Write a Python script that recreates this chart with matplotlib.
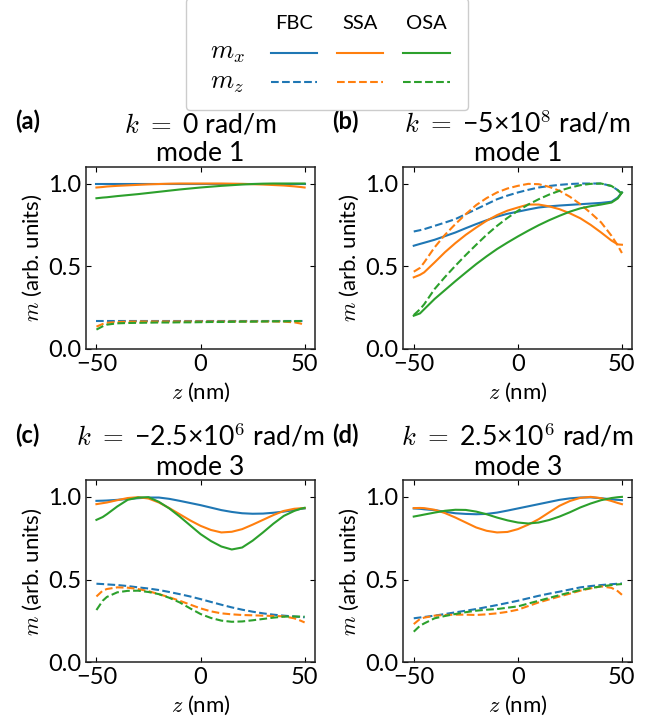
import matplotlib
matplotlib.use("Agg")
import matplotlib.pyplot as plt
import matplotlib.text as mtext
from matplotlib.legend_handler import HandlerBase

# position across the film (nm)
z = [-50, -47, -45, -40, -35, -30, -25, -20, -15, -10, -5, 0,
     5, 10, 15, 20, 25, 30, 35, 40, 45, 48, 50]

# (a) k = 0, mode 1
a_fbc_x = [1.000, 1.000, 1.000, 1.000, 1.000, 1.000, 1.000, 1.000, 1.000, 1.000, 1.000, 1.000,
           1.000, 1.000, 1.000, 1.000, 1.000, 1.000, 1.000, 1.000, 1.000, 1.000, 1.000]
a_ssa_x = [0.976, 0.979, 0.982, 0.986, 0.989, 0.992, 0.995, 0.997, 0.999, 1.000, 1.000, 1.000,
           1.000, 1.000, 0.999, 0.998, 0.996, 0.994, 0.991, 0.988, 0.983, 0.979, 0.976]
a_osa_x = [0.911, 0.915, 0.917, 0.924, 0.930, 0.936, 0.943, 0.950, 0.957, 0.964, 0.970, 0.976,
           0.981, 0.986, 0.990, 0.994, 0.997, 0.999, 1.000, 1.000, 1.000, 1.000, 1.000]
a_fbc_z = [0.170, 0.170, 0.170, 0.170, 0.170, 0.170, 0.170, 0.170, 0.170, 0.170, 0.170, 0.170,
           0.170, 0.170, 0.170, 0.170, 0.170, 0.170, 0.170, 0.170, 0.170, 0.170, 0.170]
a_ssa_z = [0.135, 0.151, 0.158, 0.163, 0.165, 0.166, 0.166, 0.166, 0.166, 0.166, 0.166, 0.166,
           0.166, 0.166, 0.166, 0.166, 0.166, 0.166, 0.166, 0.165, 0.161, 0.154, 0.145]
a_osa_z = [0.117, 0.137, 0.147, 0.155, 0.157, 0.158, 0.159, 0.160, 0.160, 0.161, 0.161, 0.162,
           0.163, 0.163, 0.164, 0.165, 0.165, 0.166, 0.167, 0.167, 0.168, 0.169, 0.169]

# (b) k = -5e8, mode 1
b_fbc_x = [0.624, 0.635, 0.642, 0.660, 0.682, 0.704, 0.730, 0.755, 0.778, 0.800, 0.817, 0.830,
           0.843, 0.855, 0.862, 0.867, 0.871, 0.875, 0.879, 0.883, 0.890, 0.915, 0.946]
b_ssa_x = [0.433, 0.448, 0.463, 0.523, 0.585, 0.640, 0.690, 0.734, 0.775, 0.809, 0.836, 0.855,
           0.873, 0.873, 0.862, 0.845, 0.820, 0.790, 0.750, 0.704, 0.655, 0.632, 0.630]
b_osa_x = [0.201, 0.215, 0.240, 0.302, 0.356, 0.410, 0.462, 0.513, 0.560, 0.604, 0.643, 0.680,
           0.715, 0.748, 0.778, 0.805, 0.830, 0.850, 0.863, 0.873, 0.885, 0.910, 0.946]
b_fbc_z = [0.710, 0.718, 0.724, 0.744, 0.764, 0.785, 0.815, 0.845, 0.875, 0.905, 0.927, 0.946,
           0.962, 0.976, 0.985, 0.992, 0.997, 1.000, 1.000, 1.000, 0.985, 0.960, 0.936]
b_ssa_z = [0.467, 0.490, 0.523, 0.614, 0.690, 0.755, 0.815, 0.870, 0.912, 0.946, 0.970, 0.986,
           0.998, 0.996, 0.980, 0.956, 0.920, 0.875, 0.822, 0.765, 0.684, 0.625, 0.580]
b_osa_z = [0.205, 0.240, 0.270, 0.362, 0.435, 0.503, 0.568, 0.630, 0.690, 0.744, 0.792, 0.835,
           0.873, 0.905, 0.933, 0.956, 0.975, 0.990, 0.998, 1.000, 0.985, 0.960, 0.936]

# (c) k = -2.5e6, mode 3
c_fbc_x = [0.976, 0.977, 0.978, 0.982, 0.987, 0.992, 0.996, 0.996, 0.988, 0.976, 0.963, 0.950,
           0.935, 0.920, 0.909, 0.901, 0.898, 0.899, 0.904, 0.911, 0.920, 0.927, 0.930]
c_ssa_x = [0.956, 0.962, 0.966, 0.980, 0.993, 0.998, 0.990, 0.966, 0.932, 0.895, 0.858, 0.825,
           0.800, 0.785, 0.789, 0.805, 0.832, 0.861, 0.890, 0.915, 0.928, 0.931, 0.932]
c_osa_x = [0.861, 0.878, 0.895, 0.942, 0.982, 0.996, 0.998, 0.970, 0.930, 0.881, 0.828, 0.775,
           0.733, 0.700, 0.682, 0.694, 0.735, 0.785, 0.838, 0.885, 0.915, 0.928, 0.934]
c_fbc_z = [0.475, 0.473, 0.471, 0.467, 0.461, 0.453, 0.446, 0.437, 0.425, 0.412, 0.398, 0.382,
           0.365, 0.348, 0.332, 0.318, 0.306, 0.296, 0.288, 0.282, 0.277, 0.274, 0.272]
c_ssa_z = [0.398, 0.433, 0.443, 0.453, 0.451, 0.443, 0.430, 0.412, 0.393, 0.372, 0.349, 0.326,
           0.308, 0.296, 0.290, 0.286, 0.284, 0.282, 0.280, 0.278, 0.266, 0.252, 0.241]
c_osa_z = [0.316, 0.372, 0.395, 0.423, 0.432, 0.433, 0.425, 0.412, 0.390, 0.362, 0.326, 0.292,
           0.268, 0.252, 0.245, 0.247, 0.254, 0.262, 0.270, 0.276, 0.277, 0.276, 0.276]

# (d) k = 2.5e6, mode 3
d_fbc_x = [0.930, 0.928, 0.925, 0.920, 0.910, 0.901, 0.897, 0.895, 0.897, 0.905, 0.917, 0.930,
           0.943, 0.956, 0.969, 0.982, 0.991, 0.996, 0.997, 0.992, 0.985, 0.982, 0.980]
d_ssa_x = [0.932, 0.933, 0.932, 0.922, 0.902, 0.875, 0.845, 0.815, 0.795, 0.785, 0.788, 0.805,
           0.832, 0.865, 0.906, 0.946, 0.975, 0.994, 1.000, 0.992, 0.975, 0.963, 0.956]
d_osa_x = [0.881, 0.888, 0.893, 0.905, 0.916, 0.922, 0.921, 0.911, 0.895, 0.875, 0.858, 0.845,
           0.839, 0.845, 0.860, 0.881, 0.907, 0.936, 0.960, 0.980, 0.993, 0.998, 1.000]
d_fbc_z = [0.266, 0.271, 0.274, 0.282, 0.292, 0.302, 0.312, 0.322, 0.334, 0.346, 0.359, 0.372,
           0.387, 0.402, 0.415, 0.427, 0.440, 0.453, 0.461, 0.467, 0.472, 0.475, 0.477]
d_ssa_z = [0.231, 0.262, 0.270, 0.282, 0.286, 0.288, 0.288, 0.286, 0.290, 0.296, 0.305, 0.318,
           0.340, 0.362, 0.380, 0.398, 0.415, 0.433, 0.447, 0.459, 0.450, 0.430, 0.408]
d_osa_z = [0.185, 0.221, 0.235, 0.266, 0.280, 0.292, 0.303, 0.312, 0.318, 0.322, 0.330, 0.338,
           0.355, 0.372, 0.389, 0.406, 0.422, 0.437, 0.449, 0.459, 0.467, 0.471, 0.473]

methods = ["FBC", "SSA", "OSA"]
colors = ["#1f77b4", "#ff7f0e", "#2ca02c"]
panel_tags = ["(a)", "(b)", "(c)", "(d)"]
k_labels = ["0", "\u22125\u00d710$^{\\mathsf{8}}$", "\u22122.5\u00d710$^{\\mathsf{6}}$",
            "2.5\u00d710$^{\\mathsf{6}}$"]
modes = [1, 1, 3, 3]

panels = [
    ([a_fbc_x, a_ssa_x, a_osa_x], [a_fbc_z, a_ssa_z, a_osa_z]),
    ([b_fbc_x, b_ssa_x, b_osa_x], [b_fbc_z, b_ssa_z, b_osa_z]),
    ([c_fbc_x, c_ssa_x, c_osa_x], [c_fbc_z, c_ssa_z, c_osa_z]),
    ([d_fbc_x, d_ssa_x, d_osa_x], [d_fbc_z, d_ssa_z, d_osa_z]),
]

plt.rcParams['font.family'] = ['Lato', 'DejaVu Sans']
plt.rcParams['mathtext.fontset'] = 'cm'
plt.rcParams['font.size'] = 16
plt.rcParams['xtick.labelsize'] = 17
plt.rcParams['ytick.labelsize'] = 17
plt.rcParams['xtick.direction'] = 'in'
plt.rcParams['ytick.direction'] = 'in'
plt.rcParams['xtick.top'] = True
plt.rcParams['ytick.right'] = True
plt.rcParams['axes.edgecolor'] = '#222222'
plt.rcParams['axes.linewidth'] = 1.1


class CellText:
    def __init__(self, s, size=None):
        self.s = s
        self.size = size


class HandlerCellText(HandlerBase):
    # draws a text in the place of the legend key, so the legend reads like a table
    def create_artists(self, legend, orig_handle, xdescent, ydescent, width, height,
                       fontsize, trans):
        t = mtext.Text(width / 2 - xdescent, height / 2 - ydescent, orig_handle.s,
                       ha='center', va='center', fontsize=orig_handle.size or fontsize,
                       transform=trans)
        return [t]


fig = plt.figure(figsize=(6.7, 7.21), dpi=100)
lefts = [0.1284, 0.602, 0.1284, 0.602]
bottoms = [0.516, 0.516, 0.0814, 0.0814]

legend_lines = None
for i, (mx, mz) in enumerate(panels):
    ax = fig.add_axes([lefts[i], bottoms[i], 0.3418, 0.2524])
    lx, lz = [], []
    for j in range(3):
        l1, = ax.plot(z, mx[j], color=colors[j], lw=1.5)
        l2, = ax.plot(z, mz[j], color=colors[j], lw=1.5, ls='--')
        lx.append(l1)
        lz.append(l2)
    if legend_lines is None:
        legend_lines = (lx, lz)
    ax.set_ylim(0, 1.1)
    ax.set_yticks([0, 0.5, 1.0])
    ax.set_xticks([-50, 0, 50])
    ax.set_xlabel("$z$ (nm)", labelpad=4)
    ax.set_ylabel("$m$ (arb. units)", labelpad=3)
    ax.set_title(f"$k\\ =$ {k_labels[i]} rad/m\nmode {modes[i]}", pad=4)
    ax.text(-0.31, 1.25, panel_tags[i], transform=ax.transAxes, fontweight='bold',
            fontsize=17, ha='left', va='center')

lx, lz = legend_lines
handles = [CellText(""), CellText("$m_x$", 19), CellText("$m_z$", 19)]
for j in range(3):
    handles += [CellText(methods[j]), lx[j], lz[j]]
fig.legend(handles, [""] * len(handles), ncol=4, loc='upper center',
           bbox_to_anchor=(0.488, 1.003), borderaxespad=0, fontsize=14.5,
           handlelength=2.3, handletextpad=0, columnspacing=1.0, labelspacing=0.62,
           borderpad=0.9, framealpha=1, edgecolor='0.8',
           handler_map={CellText: HandlerCellText()})

fig.savefig("out.png", dpi=100)
